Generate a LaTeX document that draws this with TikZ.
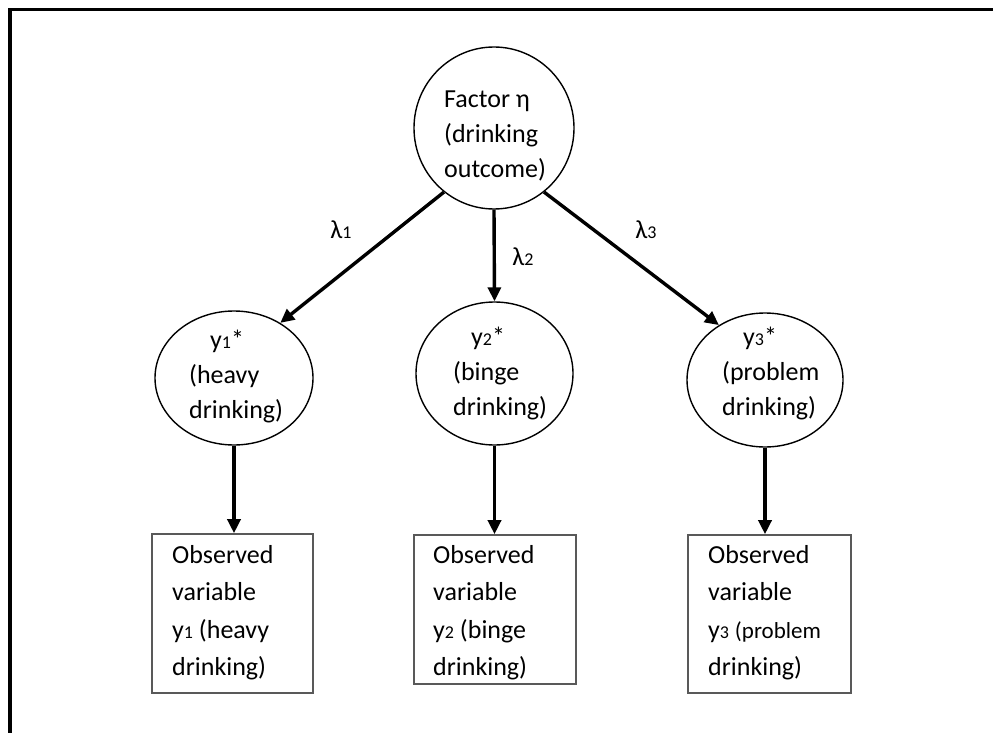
\documentclass[tikz,border=0pt]{standalone}
\usepackage{fontspec}
\setmainfont{Carlito}
\usetikzlibrary{shapes.geometric,arrows.meta}

% small digit used as an index (y1, lambda1, ...)
\newcommand{\idx}[1]{{\fontsize{18}{18}\selectfont #1}}
% strut fixing the height of the first line of a text block
\newcommand{\firstline}{\rule{0pt}{22pt}}

\begin{document}
\begin{tikzpicture}[x=1pt,y=-1pt,
  latent/.style={ellipse, draw=black, line width=1.4pt, inner sep=0pt},
  observed/.style={rectangle, draw=black!65, line width=1.6pt, inner sep=0pt},
  txt/.style={anchor=north west, inner sep=0pt, align=left, font=\fontsize{26}{35}\selectfont},
  boxtxt/.style={txt, font=\fontsize{26}{37.5}\selectfont},
  lbl/.style={inner sep=0pt, font=\fontsize{26}{30}\selectfont},
  loading/.style={line width=3.4pt, -{Triangle[length=14pt,width=13pt]}},
  frame/.style={line width=3.5pt}]
\useasboundingbox (0,0) rectangle (993,733);

% page frame: top and left edges
\draw[frame] (10,733) -- (10,9.5) -- (993,9.5);

% latent factor
\node[latent, minimum width=160pt, minimum height=162pt] (eta) at (494,128) {};
\node[txt] (etatxt) at (444,85) {\firstline Factor η\\(drinking\\outcome)};

% latent responses
\node[latent, minimum width=158pt, minimum height=134pt] (y1s) at (234,378) {};
\node[txt] (y1stxt) at (189,326) {\firstline\hspace*{21pt}y\idx{1}*\\(heavy\\drinking)};

\node[latent, minimum width=157pt, minimum height=143pt] (y2s) at (494.5,373.5) {};
\node[txt] (y2stxt) at (453,323) {\firstline\hspace*{18pt}y\idx{2}*\\(binge\\drinking)};

\node[latent, minimum width=156pt, minimum height=134pt] (y3s) at (765,380) {};
\node[txt] (y3stxt) at (722,323) {\firstline\hspace*{21pt}y\idx{3}*\\(problem\\drinking)};

% observed indicators
\node[observed, minimum width=161pt, minimum height=159pt] (obs1) at (232.5,613.5) {};
\node[boxtxt] (obs1txt) at (172,541) {\firstline Observed\\variable\\y\idx{1} (heavy\\drinking)};

\node[observed, minimum width=162pt, minimum height=149pt] (obs2) at (495,609.5) {};
\node[boxtxt] (obs2txt) at (433,541) {\firstline Observed\\variable\\y\idx{2} (binge\\drinking)};

\node[observed, minimum width=163pt, minimum height=158pt] (obs3) at (769.5,614) {};
\node[boxtxt] (obs3txt) at (708,541) {\firstline Observed\\variable\\y\idx{3} {\fontsize{23}{37.5}\selectfont(problem}\\drinking)};

% factor loadings
\draw[loading] (eta.-128) -- (y1s.50);
\draw[loading] (eta.-90) -- (y2s.90);
\draw[loading] (eta.-52) -- (y3s.130);
\node[lbl] (l1) at (341,230) {λ\idx{1}};
\node[lbl] (l2) at (523,257) {λ\idx{2}};
\node[lbl] (l3) at (646,230) {λ\idx{3}};

% thresholds to observed categories
\draw[loading] (y1s.-90) -- (y1s.-90 |- obs1.north);
\draw[loading] (y2s.-90) -- (y2s.-90 |- obs2.north);
\draw[loading] (y3s.-90) -- (y3s.-90 |- obs3.north);
\end{tikzpicture}
\end{document}
